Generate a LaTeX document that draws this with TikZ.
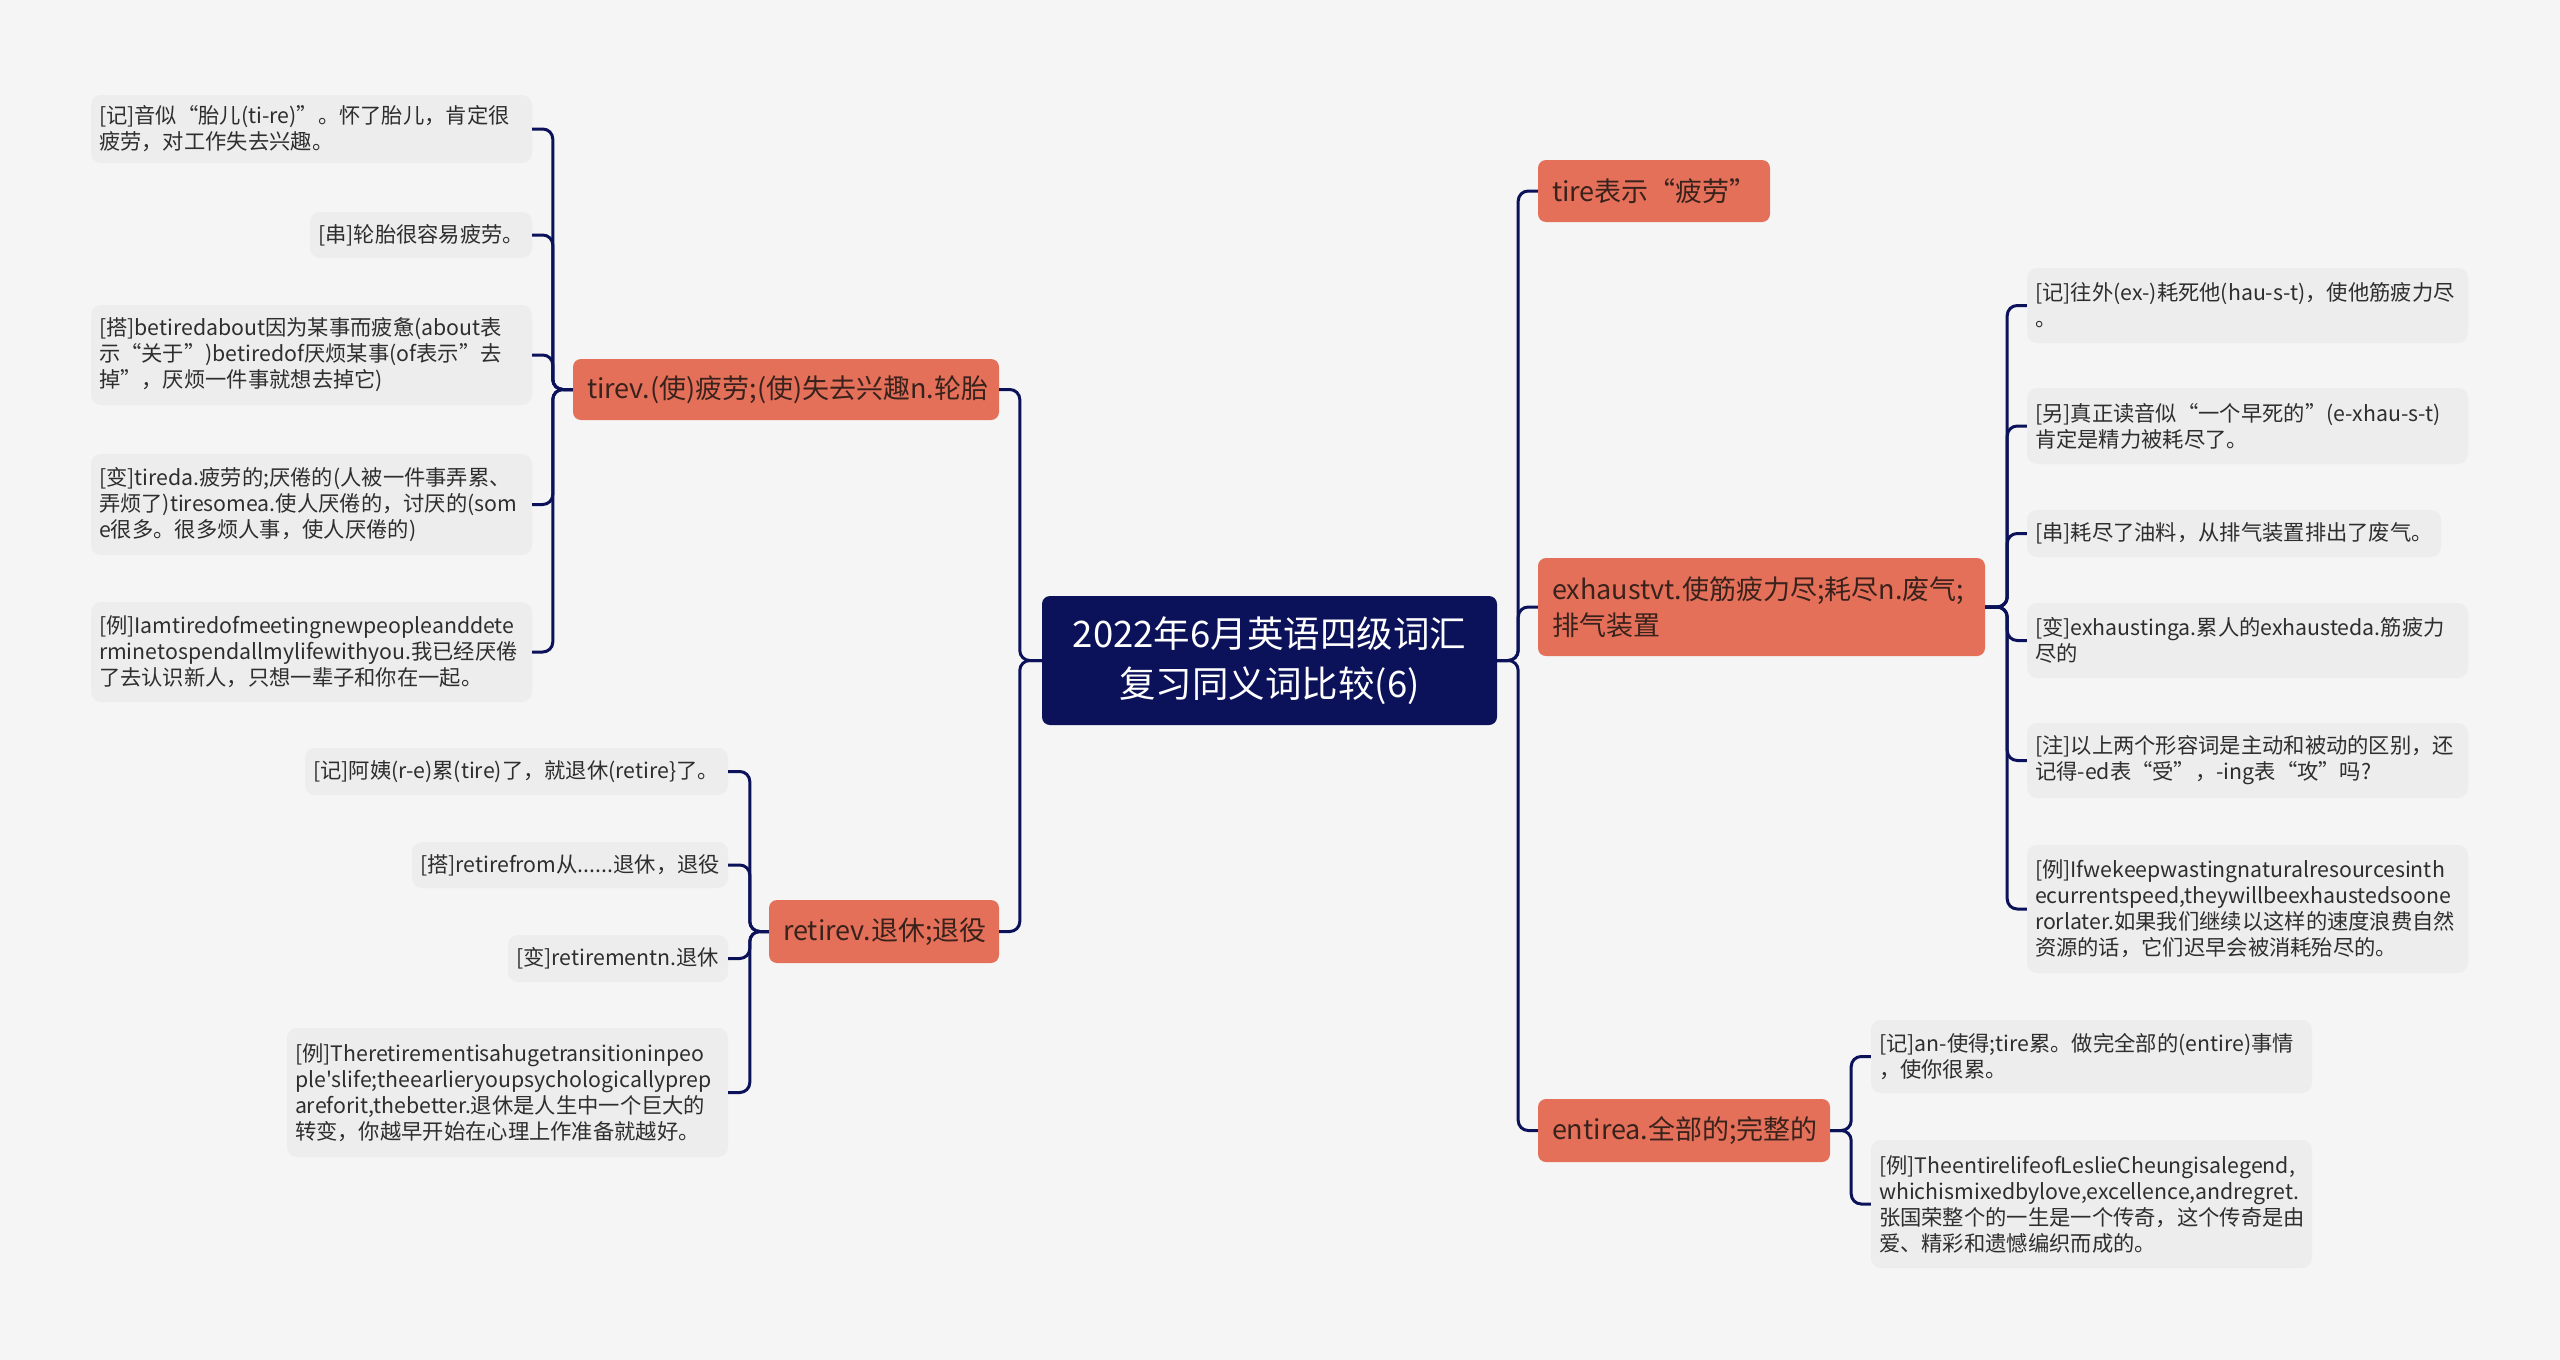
\documentclass[tikz,border=0pt]{standalone}
\usepackage{fontspec}
\setmainfont{Noto Sans CJK SC}[Ligatures=TeXOff]
\exhyphenpenalty=10000
\hyphenpenalty=10000
\hbadness=10000
\hfuzz=50pt
\newcommand\leaffont{\fontsize{21.3}{26}\selectfont}
\newcommand\midfont{\fontsize{27}{36}\selectfont}
\newcommand\rootfont{\fontsize{36.5}{50}\selectfont}
\definecolor{bgc}{HTML}{F5F5F5}
\definecolor{leafc}{HTML}{EDEDED}
\definecolor{leaftext}{HTML}{2E2E2E}
\definecolor{orangec}{HTML}{E4705A}
\definecolor{midtext}{HTML}{3A221C}
\definecolor{navyc}{HTML}{0C1259}
\tikzset{
  leaf/.style={fill=leafc, rounded corners=10pt, inner xsep=8pt, inner ysep=0pt,
    align=left, font=\leaffont, text=leaftext},
  midbox/.style={fill=orangec, rounded corners=8pt, inner xsep=14pt, inner ysep=0pt,
    align=left, font=\midfont, text=midtext},
  rootbox/.style={fill=navyc, rounded corners=8pt, inner xsep=10pt, inner ysep=0pt,
    align=center, font=\rootfont, text=white},
  conn/.style={draw=navyc, line width=3pt, rounded corners=10pt},
}
\begin{document}
\begin{tikzpicture}[x=1pt,y=-1pt]
\fill[bgc] (0,0) rectangle (2560,1360);
\useasboundingbox (0,0) rectangle (2560,1360);

% root
\node[rootbox, minimum width=455pt, minimum height=129pt, text width=435pt] (root) at (1269.5,660.5)
  {2022年6月英语四级词汇\\复习同义词比较(6)};

% level 1
\node[midbox, minimum width=426pt, minimum height=61pt, text width=398pt] (T) at (786,389.5)
  {tirev.(使)疲劳;(使)失去兴趣n.轮胎};
\node[midbox, minimum width=230pt, minimum height=63pt, text width=202pt] (RT) at (884,931.5)
  {retirev.退休;退役};
\node[midbox, minimum width=232pt, minimum height=62pt, text width=204pt] (TB) at (1654,191)
  {tire表示“疲劳”};
\node[midbox, minimum width=447pt, minimum height=98pt, text width=419pt] (EX) at (1761.5,607)
  {exhaustvt.使筋疲力尽;耗尽n.废气;\\排气装置};
\node[midbox, minimum width=292pt, minimum height=63pt, text width=264pt] (EN) at (1684,1130.5)
  {entirea.全部的;完整的};

% tire leaves
\node[leaf, minimum width=441pt, minimum height=68pt, text width=425pt] (L1) at (311.5,129)
  {[记]音似“胎儿(ti-re)”。怀了胎儿，肯定很\\疲劳，对工作失去兴趣。};
\node[leaf, minimum width=222pt, minimum height=46pt, text width=206pt] (L2) at (421,235)
  {[串]轮胎很容易疲劳。};
\node[leaf, minimum width=441pt, minimum height=100pt, text width=425pt] (L3) at (311.5,355)
  {[搭]betiredabout因为某事而疲惫(about表\\示“关于”)betiredof厌烦某事(of表示”去\\掉”，厌烦一件事就想去掉它)};
\node[leaf, minimum width=441pt, minimum height=101pt, text width=425pt] (L4) at (311.5,504.5)
  {[变]tireda.疲劳的;厌倦的(人被一件事弄累、\\弄烦了)tiresomea.使人厌倦的，讨厌的(som\\e很多。很多烦人事，使人厌倦的)};
\node[leaf, minimum width=441pt, minimum height=100pt, text width=425pt] (L5) at (311.5,652)
  {[例]Iamtiredofmeetingnewpeopleanddete\\rminetospendallmylifewithyou.我已经厌倦\\了去认识新人，只想一辈子和你在一起。};

% retire leaves
\node[leaf, minimum width=423pt, minimum height=47pt, text width=407pt] (R1) at (516.5,771.5)
  {[记]阿姨(r-e)累(tire)了，就退休(retire\}了。};
\node[leaf, minimum width=316pt, minimum height=46pt, text width=300pt] (R2) at (570,865)
  {[搭]retirefrom从......退休，退役};
\node[leaf, minimum width=220pt, minimum height=47pt, text width=204pt] (R3) at (618,958.5)
  {[变]retirementn.退休};
\node[leaf, minimum width=441pt, minimum height=129pt, text width=425pt] (R4) at (507.5,1092.5)
  {[例]Theretirementisahugetransitioninpeo\\ple'slife;theearlieryoupsychologicallyprep\\areforit,thebetter.退休是人生中一个巨大的\\转变，你越早开始在心理上作准备就越好。};

% exhaust leaves
\node[leaf, minimum width=441pt, minimum height=75pt, text width=425pt] (E1) at (2247.5,305.5)
  {[记]往外(ex-)耗死他(hau-s-t)，使他筋疲力尽\\。};
\node[leaf, minimum width=441pt, minimum height=76pt, text width=425pt] (E2) at (2247.5,426)
  {[另]真正读音似“一个早死的”(e-xhau-s-t)\\肯定是精力被耗尽了。};
\node[leaf, minimum width=414pt, minimum height=47pt, text width=398pt] (E3) at (2234,533.5)
  {[串]耗尽了油料，从排气装置排出了废气。};
\node[leaf, minimum width=441pt, minimum height=75pt, text width=425pt] (E4) at (2247.5,640.5)
  {[变]exhaustinga.累人的exhausteda.筋疲力\\尽的};
\node[leaf, minimum width=441pt, minimum height=75pt, text width=425pt] (E5) at (2247.5,760.5)
  {[注]以上两个形容词是主动和被动的区别，还\\记得-ed表“受”，-ing表“攻”吗?};
\node[leaf, minimum width=441pt, minimum height=128pt, text width=425pt] (E6) at (2247.5,909)
  {[例]Ifwekeepwastingnaturalresourcesinth\\ecurrentspeed,theywillbeexhaustedsoone\\rorlater.如果我们继续以这样的速度浪费自然\\资源的话，它们迟早会被消耗殆尽的。};

% entire leaves
\node[leaf, minimum width=441pt, minimum height=73pt, text width=425pt] (N1) at (2091.5,1056.5)
  {[记]an-使得;tire累。做完全部的(entire)事情\\，使你很累。};
\node[leaf, minimum width=441pt, minimum height=128pt, text width=425pt] (N2) at (2091.5,1204)
  {[例]TheentirelifeofLeslieCheungisalegend,\\whichismixedbylove,excellence,andregret.\\张国荣整个的一生是一个传奇，这个传奇是由\\爱、精彩和遗憾编织而成的。};

% connectors
\foreach \c in {T,RT} \draw[conn] (root.west) -- ++(-22,0) |- (\c.east);
\foreach \c in {TB,EX,EN} \draw[conn] (root.east) -- ++(21,0) |- (\c.west);
\foreach \c in {L1,L2,L3,L4,L5} \draw[conn] (T.west) -- ++(-20,0) |- (\c.east);
\foreach \c in {R1,R2,R3,R4} \draw[conn] (RT.west) -- ++(-19,0) |- (\c.east);
\foreach \c in {E1,E2,E3,E4,E5,E6} \draw[conn] (EX.east) -- ++(22,0) |- (\c.west);
\foreach \c in {N1,N2} \draw[conn] (EN.east) -- ++(21,0) |- (\c.west);
\end{tikzpicture}
\end{document}
